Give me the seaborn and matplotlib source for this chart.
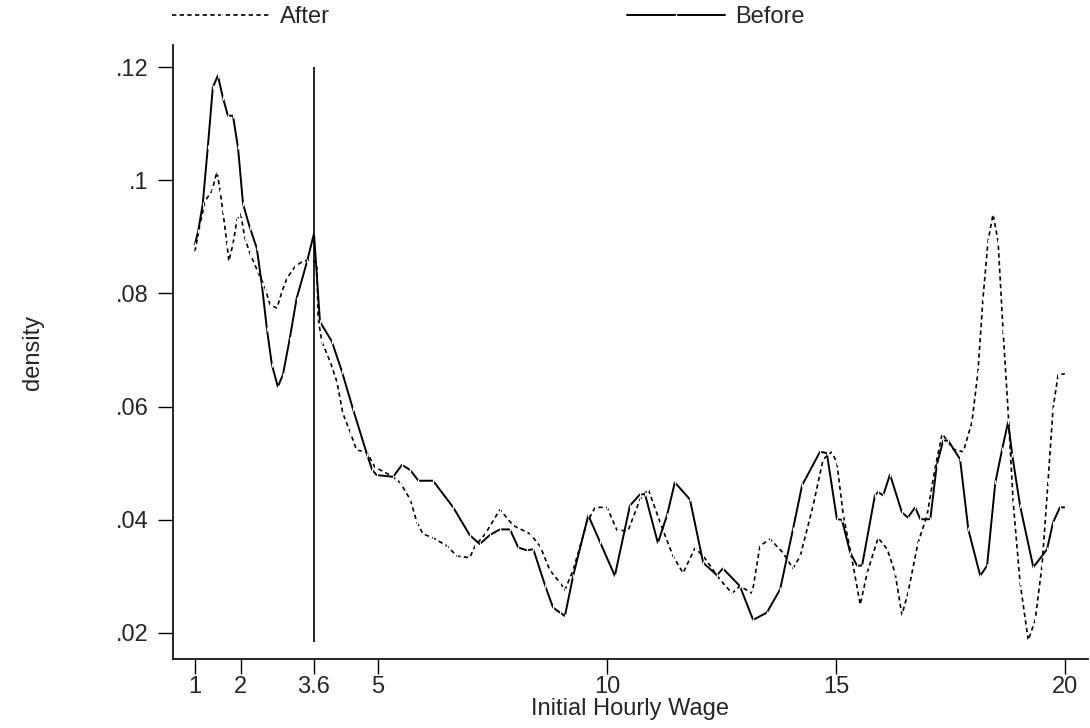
import matplotlib
matplotlib.use("Agg")
import matplotlib.pyplot as plt
import seaborn as sns
import pandas as pd

# Kernel density of initial hourly wage, before and after the minimum-wage change
before_wage = [1.00, 1.07, 1.17, 1.28, 1.39, 1.50, 1.61, 1.72, 1.83, 1.94, 2.05, 2.20,
               2.35, 2.46, 2.57, 2.68, 2.81, 2.92, 3.07, 3.22, 3.45, 3.60, 3.73, 3.99,
               4.21, 4.45, 4.76, 4.87, 4.97, 5.33, 5.52, 5.70, 5.88, 6.20, 6.64, 7.00,
               7.22, 7.44, 7.66, 7.88, 8.06, 8.25, 8.39, 8.65, 8.82, 8.97, 9.08, 9.26,
               9.59, 9.85, 10.17, 10.50, 10.72, 10.83, 11.11, 11.31, 11.48, 11.81, 12.10,
               12.40, 12.53, 12.90, 13.19, 13.49, 13.78, 14.06, 14.26, 14.65, 14.80,
               15.02, 15.13, 15.31, 15.46, 15.57, 15.85, 15.92, 16.03, 16.18, 16.44,
               16.57, 16.73, 16.84, 17.06, 17.20, 17.34, 17.45, 17.71, 17.89, 18.15,
               18.30, 18.48, 18.63, 18.76, 18.85, 19.02, 19.31, 19.61, 19.74, 19.89, 20.00]
before_density = [.0887, .0910, .0958, .1058, .1164, .1185, .1146, .1114, .1114, .1058,
                  .0958, .0916, .0880, .0816, .0738, .0674, .0635, .0656, .0720, .0791,
                  .0857, .0906, .0750, .0715, .0662, .0596, .0515, .0488, .0479, .0476,
                  .0497, .0488, .0469, .0469, .0422, .0373, .0357, .0373, .0383, .0383,
                  .0351, .0346, .0348, .0283, .0245, .0236, .0230, .0301, .0408, .0360,
                  .0301, .0425, .0445, .0445, .0359, .0408, .0466, .0436, .0324, .0302,
                  .0314, .0283, .0223, .0236, .0277, .0383, .0461, .0520, .0518, .0401,
                  .0400, .0342, .0319, .0319, .0443, .0449, .0443, .0480, .0413, .0404,
                  .0422, .0401, .0401, .0496, .0540, .0540, .0507, .0383, .0301, .0319,
                  .0466, .0525, .0573, .0514, .0425, .0316, .0348, .0395, .0422, .0422]

after_wage = [1.00, 1.11, 1.22, 1.37, 1.48, 1.55, 1.61, 1.70, 1.74, 1.83, 1.92, 2.00,
              2.09, 2.20, 2.37, 2.53, 2.64, 2.79, 2.90, 3.01, 3.19, 3.36, 3.56, 3.66,
              3.69, 3.77, 3.95, 4.10, 4.23, 4.39, 4.53, 4.75, 4.93, 5.26, 5.48, 5.70,
              5.85, 5.98, 6.20, 6.50, 6.72, 7.00, 7.12, 7.34, 7.66, 7.95, 8.32, 8.54,
              8.75, 8.97, 9.08, 9.26, 9.56, 9.74, 10.00, 10.22, 10.46, 10.72, 10.90,
              11.16, 11.44, 11.66, 11.92, 12.10, 12.47, 12.73, 12.90, 13.17, 13.34,
              13.56, 13.84, 14.06, 14.22, 14.50, 14.72, 14.91, 15.02, 15.16, 15.35,
              15.53, 15.68, 15.92, 16.12, 16.29, 16.44, 16.57, 16.79, 16.99, 17.16,
              17.32, 17.56, 17.78, 17.97, 18.10, 18.21, 18.32, 18.43, 18.54, 18.65,
              18.76, 18.87, 19.02, 19.20, 19.35, 19.50, 19.63, 19.74, 19.85, 20.00]
after_density = [.0874, .0922, .0963, .0981, .1015, .0981, .0945, .0887, .0857, .0887,
                 .0931, .0940, .0898, .0871, .0839, .0810, .0780, .0774, .0803, .0827,
                 .0848, .0857, .0860, .0852, .0756, .0715, .0680, .0644, .0588, .0555,
                 .0523, .0520, .0493, .0479, .0466, .0436, .0395, .0375, .0368, .0354,
                 .0336, .0333, .0354, .0375, .0418, .0390, .0375, .0353, .0311, .0289,
                 .0276, .0311, .0395, .0422, .0422, .0381, .0381, .0436, .0454, .0395,
                 .0336, .0306, .0350, .0336, .0294, .0270, .0283, .0270, .0354, .0366,
                 .0342, .0314, .0336, .0425, .0507, .0520, .0500, .0408, .0330, .0250,
                 .0306, .0368, .0348, .0306, .0232, .0270, .0359, .0408, .0490, .0552,
                 .0525, .0520, .0573, .0661, .0791, .0892, .0940, .0892, .0733, .0591,
                 .0431, .0289, .0187, .0223, .0319, .0466, .0596, .0656, .0658]

x_ticks = [1, 2, 3.6, 5, 10, 15, 20]
x_tick_labels = ["1", "2", "3.6", "5", "10", "15", "20"]
y_ticks = [0.02, 0.04, 0.06, 0.08, 0.10, 0.12]
y_tick_labels = [".02", ".04", ".06", ".08", ".1", ".12"]
min_wage = 3.6

FS = 17

sns.set_style("white")
plt.rcParams["font.family"] = ["Liberation Sans", "DejaVu Sans"]

fig = plt.figure(figsize=(10.9, 7.28), dpi=100)
ax = fig.add_axes([0.1587, 0.0948, 0.8393, 0.8434])

df_after = pd.DataFrame({"wage": after_wage, "density": after_density})
df_before = pd.DataFrame({"wage": before_wage, "density": before_density})

sns.lineplot(data=df_after, x="wage", y="density", ax=ax, color="black",
             linewidth=1.2, sort=False, estimator=None,
             marker="|", markersize=3.5, markeredgewidth=0.9, label="After")
ax.lines[-1].set_dashes((2.6, 2.0))
sns.lineplot(data=df_before, x="wage", y="density", ax=ax, color="black",
             linewidth=1.4, sort=False, estimator=None,
             marker="|", markersize=3.5, markeredgewidth=0.9, label="Before")

ax.vlines(min_wage, 0.0184, 0.12, color="black", linewidth=1.2)

ax.set_xlim(0.52, 20.5)
ax.set_ylim(0.0154, 0.1239)
ax.set_xticks(x_ticks)
ax.set_xticklabels(x_tick_labels)
ax.set_yticks(y_ticks)
ax.set_yticklabels(y_tick_labels)
ax.tick_params(axis="both", which="major", direction="out", length=10.5, width=1.0,
               color="black", labelsize=FS, left=True, bottom=True)
ax.tick_params(axis="y", pad=7)
ax.tick_params(axis="x", pad=2)
for side in ("top", "right"):
    ax.spines[side].set_visible(False)
for side in ("left", "bottom"):
    ax.spines[side].set_color("black")
    ax.spines[side].set_linewidth(1.2)

ax.set_xlabel("Initial Hourly Wage", fontsize=FS, labelpad=0)
ax.set_ylabel("density", fontsize=FS, labelpad=52)

if ax.legend_ is not None:
    ax.legend_.remove()
handles, labels = ax.get_legend_handles_labels()
fig.legend(handles, labels, ncol=2, frameon=False, loc="center left",
           bbox_to_anchor=(172 / 1090, 1 - 17 / 728), fontsize=FS,
           handlelength=4.15, handletextpad=0.42, columnspacing=12.6,
           borderpad=0, borderaxespad=0)

fig.savefig("out.png", dpi=100, facecolor="white")
